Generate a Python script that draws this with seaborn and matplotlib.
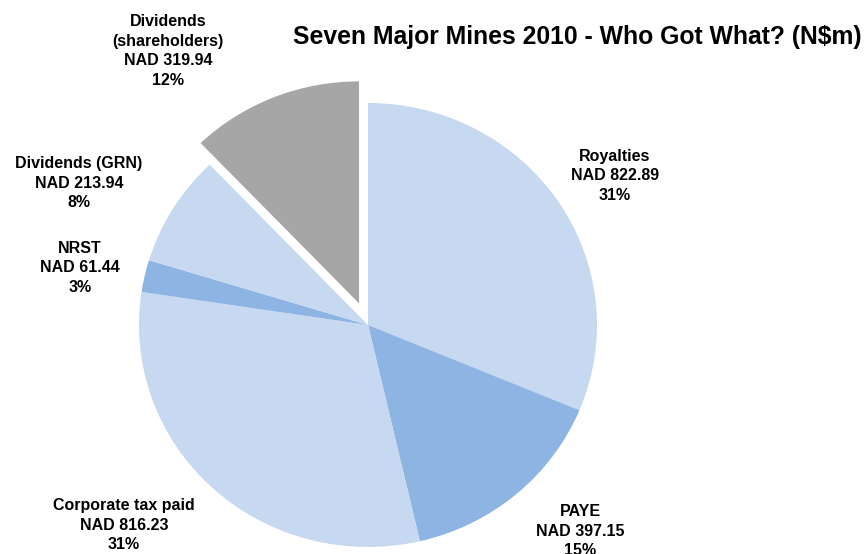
import matplotlib
matplotlib.use("Agg")
import matplotlib.pyplot as plt
import seaborn as sns

sns.set_theme(style="white")
plt.rcParams['font.family'] = ['Liberation Sans', 'DejaVu Sans']

# ---- data ----
categories = ["Royalties", "PAYE", "Corporate tax paid", "NRST",
              "Dividends (GRN)", "Dividends\n(shareholders)"]
values = [822.89, 397.15, 816.23, 61.44, 213.94, 319.94]
pct_labels = ["31%", "15%", "31%", "3%", "8%", "12%"]
title = "Seven Major Mines 2010 - Who Got What? (N$m)"

# ---- style / layout ----
light = "#c6d9f1"
mid = "#8eb4e3"
grey = "#a6a6a6"
colors = [light, mid, light, mid, light, grey]
explode = [0, 0, 0, 0, 0, 0.105]

W, H = 867, 554
cx, cy = 368, 325        # pixel centre of the pie
RX, RY = 229, 222        # pixel radii (slightly elliptical, as in reference)
# label centres (pixels, from top-left)
label_pos = [(615, 176), (580, 531), (124, 525), (80, 268), (79, 183), (168, 51)]

fig = plt.figure(figsize=(W / 100, H / 100), dpi=100)
ax = fig.add_axes([0, 0, 1, 1])
ax.pie(values, colors=colors, startangle=90, counterclock=False,
       explode=explode, radius=1,
       wedgeprops=dict(linewidth=0, antialiased=True))
ax.set_aspect('auto')
ax.set_xlim(-cx / RX, (W - cx) / RX)
ax.set_ylim(-(H - cy) / RY, cy / RY)
ax.axis('off')

for name, val, pct, (px, py) in zip(categories, values, pct_labels, label_pos):
    ax.text((px - cx) / RX, (cy - py) / RY, f"{name}\nNAD {val:.2f}\n{pct}",
            ha='center', va='center', fontsize=11.5, fontweight='bold',
            color='black', linespacing=1.38)

fig.text(577 / W, 1 - 37 / H, title, ha='center', va='center',
         fontsize=17.8, fontweight='bold', color='black')

fig.savefig("out.png", dpi=100)
